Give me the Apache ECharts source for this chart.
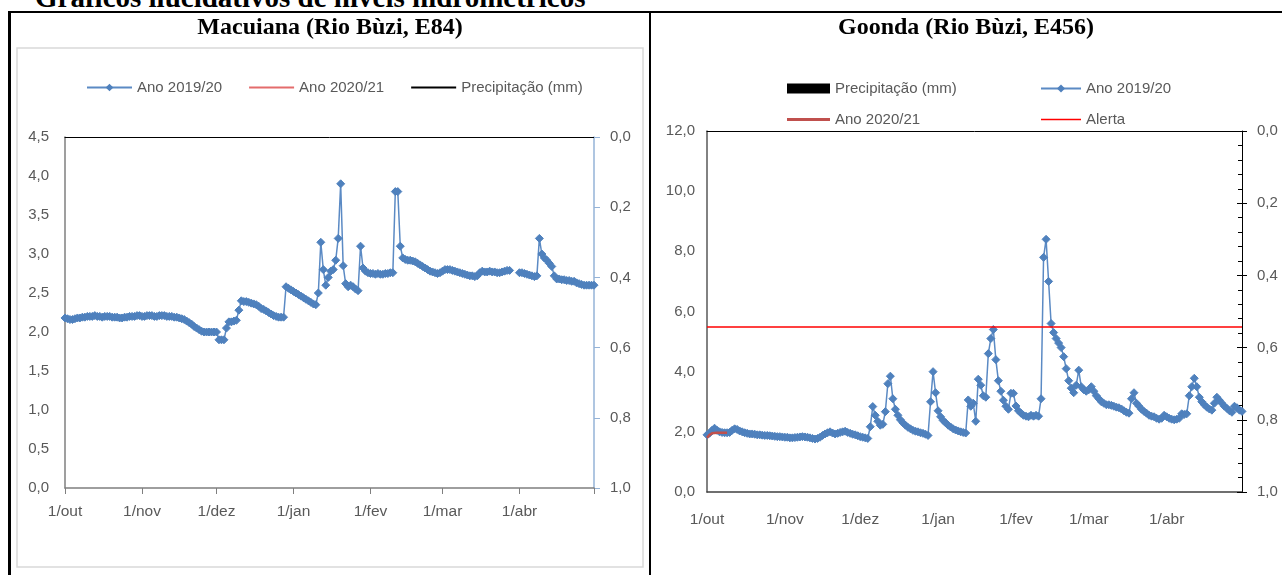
<!DOCTYPE html>
<html><head><meta charset="utf-8">
<script src="https://cdn.jsdelivr.net/npm/echarts@6.0.0/dist/echarts.min.js"></script>
<style>
html,body{margin:0;padding:0;background:#fff;width:1282px;height:575px;overflow:hidden;position:relative;}
#c1{position:absolute;left:0;top:0;width:650px;height:575px;}
#c2{position:absolute;left:650px;top:0;width:632px;height:575px;}
.bl{position:absolute;background:#000;}
#mt{position:absolute;left:35px;top:-19px;font:bold 29px 'Liberation Serif','Times New Roman',serif;white-space:nowrap;color:#000;}
</style></head><body>
<div id="mt">Gráficos ilucidativos de níveis hidrométricos</div>
<div id="c1"></div><div id="c2"></div>
<div class="bl" style="left:8px;top:11px;width:1274px;height:2px"></div>
<div class="bl" style="left:8px;top:11px;width:3px;height:564px"></div>
<div class="bl" style="left:649px;top:11px;width:2px;height:564px"></div>
<script>
// ---------- DATA ----------
const monthAbbr = ['jan','fev','mar','abr','mai','jun','jul','ago','set','out','nov','dez'];
const startDate = '2019-10-01';
const endDate = '2020-05-01';
const leftTicks = [0, 0.5, 1.0, 1.5, 2.0, 2.5, 3.0, 3.5, 4.0, 4.5];
const goondaTicks = [0, 2, 4, 6, 8, 10, 12];
const precipTicks = [0, 0.2, 0.4, 0.6, 0.8, 1.0];
const alertLevel = 5.5;

// Macuiana (E84) daily levels 2019/20, 1 Oct -> 1 May
const macuiana1920 = [
2.18,2.17,2.16,2.16,2.17,2.18,2.18,2.19,2.19,2.20,
2.20,2.20,2.21,2.20,2.20,2.19,2.20,2.20,2.20,2.19,
2.19,2.19,2.18,2.18,2.19,2.19,2.20,2.20,2.20,2.21,
2.21,2.20,2.20,2.21,2.21,2.21,2.20,2.20,2.21,2.21,
2.21,2.20,2.20,2.20,2.19,2.19,2.18,2.17,2.16,2.14,
2.12,2.10,2.07,2.05,2.03,2.01,2.00,2.00,2.00,2.00,
2.00,2.00,1.90,1.90,1.90,2.05,2.13,2.13,2.14,2.15,
2.28,2.40,2.39,2.39,2.38,2.37,2.36,2.35,2.33,2.30,
2.29,2.27,2.25,2.23,2.21,2.20,2.19,2.19,2.19,2.58,
2.56,2.54,2.52,2.50,2.48,2.46,2.44,2.42,2.40,2.38,
2.36,2.35,2.50,3.15,2.80,2.60,2.70,2.78,2.80,2.92,
3.20,3.90,2.85,2.62,2.58,2.60,2.58,2.55,2.53,3.10,
2.82,2.78,2.76,2.75,2.75,2.74,2.75,2.74,2.74,2.75,
2.75,2.76,2.76,3.80,3.80,3.10,2.95,2.93,2.92,2.92,
2.91,2.90,2.88,2.86,2.84,2.82,2.80,2.78,2.77,2.76,
2.75,2.76,2.78,2.80,2.80,2.80,2.79,2.78,2.77,2.76,
2.75,2.74,2.73,2.72,2.72,2.71,2.72,2.76,2.78,2.77,
2.77,2.78,2.77,2.77,2.76,2.76,2.77,2.78,2.79,2.79,
null,null,null,2.76,2.76,2.75,2.74,2.73,2.72,2.71,
2.72,3.20,3.00,2.95,2.92,2.88,2.84,2.72,2.68,2.68,
2.67,2.67,2.66,2.66,2.65,2.65,2.63,2.62,2.61,2.60,
2.60,2.60,2.60,2.60
];
const macuiana2021 = [2.15,2.15,2.15,2.15,2.15,2.16,2.16];
const macuianaPrecip = [];

// Goonda (E456) daily levels 2019/20, 1 Oct -> 1 May
const goonda1920 = [
1.90,1.95,2.05,2.12,2.05,2.00,1.98,1.97,1.97,1.98,
2.05,2.10,2.08,2.03,2.00,1.97,1.95,1.93,1.93,1.92,
1.90,1.90,1.89,1.88,1.88,1.87,1.86,1.85,1.84,1.84,
1.83,1.82,1.82,1.80,1.80,1.81,1.82,1.83,1.84,1.83,
1.82,1.80,1.78,1.76,1.78,1.82,1.88,1.93,1.97,2.00,
1.96,1.93,1.95,1.98,2.00,2.02,1.98,1.95,1.92,1.90,
1.87,1.84,1.82,1.80,1.78,2.17,2.84,2.55,2.35,2.22,
2.25,2.67,3.60,3.85,3.10,2.75,2.55,2.40,2.30,2.22,
2.15,2.10,2.05,2.02,2.00,1.97,1.95,1.92,1.88,3.00,
4.00,3.30,2.70,2.50,2.38,2.30,2.22,2.16,2.10,2.06,
2.03,2.00,1.98,1.96,3.06,2.85,2.95,2.35,3.75,3.55,
3.20,3.15,4.60,5.10,5.40,4.40,3.70,3.35,3.05,2.85,
2.75,3.28,3.28,2.86,2.70,2.62,2.55,2.52,2.50,2.55,
2.52,2.55,2.52,3.10,7.80,8.40,7.00,5.60,5.30,5.10,
4.95,4.80,4.50,4.10,3.70,3.45,3.30,3.55,4.05,3.50,
3.40,3.35,3.40,3.50,3.35,3.20,3.10,3.00,2.95,2.90,
2.90,2.88,2.85,2.82,2.80,2.76,2.70,2.65,2.62,3.10,
3.30,2.95,2.85,2.75,2.68,2.62,2.55,2.52,2.50,2.45,
2.42,2.45,2.55,2.50,2.45,2.42,2.40,2.42,2.45,2.60,
2.58,2.60,3.20,3.50,3.78,3.50,3.15,3.00,2.90,2.82,
2.76,2.72,2.95,3.15,3.05,2.95,2.85,2.78,2.70,2.65,
2.85,2.80,2.72,2.68
];
const goonda2021 = [1.80,1.90,1.95,1.96,1.97,1.97,1.97,1.97,1.97];
const goondaPrecip = [];

// ---------- CATEGORIES ----------
const dates = [];
(function(){
  let t = Date.parse(startDate + 'T00:00:00Z');
  const e = Date.parse(endDate + 'T00:00:00Z');
  while (t <= e) { dates.push(new Date(t).toISOString().slice(0,10)); t += 86400000; }
})();
const isMonthStart = v => v.slice(8) === '01';
const tickInt = (i, v) => isMonthStart(v);
const labInt = (i, v) => isMonthStart(v) && i < dates.length - 1;
const fmtX = v => '1/' + monthAbbr[parseInt(v.slice(5,7),10) - 1];
const fmtY = v => v.toFixed(1).replace('.', ',');

const fontFam = "'Liberation Sans', Arial, sans-serif";
const txt = '#595959';
const lab = (m) => ({formatter: fmtY, margin: m, fontSize: 15, color: txt, fontFamily: fontFam});
const blue = '#4f81bd';
const lineIcon = 'path://M0,0h40v1.6h-40z';
const lineIconThick = 'path://M0,0h40v2.6h-40z';
const markerStyle = {color: blue, borderColor: blue, borderWidth: 1};

// ---------- CHART 1 ----------
const c1 = echarts.init(document.getElementById('c1'), null, {renderer:'canvas'});
c1.setOption({
  animation: false,
  graphic: [
    {type:'rect', silent:true, shape:{x:17,y:48,width:626,height:519}, style:{fill:'none', stroke:'#d9d9d9', lineWidth:1.5}},
    {type:'text', silent:true, x:330, y:28, style:{text:'Macuiana (Rio Bùzi, E84)', font:'bold 24px "Liberation Serif", serif', fill:'#000', align:'center', verticalAlign:'middle'}}
  ],
  legend: {left:81, top:75, itemWidth:45, itemHeight:6, itemGap:27,
    data:['Ano 2019/20', {name:'Ano 2020/21', icon:lineIcon}, {name:'Precipitação (mm)', icon:lineIcon}],
    textStyle:{fontSize:15, color:txt, fontFamily:fontFam}},
  grid: {left:65, top:137, width:529, height:351, containLabel:false, outerBoundsMode:'none'},
  xAxis: [
    {type:'category', data:dates, boundaryGap:false,
     axisLine:{lineStyle:{color:'#7f7f7f', width:1.5}},
     axisTick:{show:true, interval:tickInt, length:6, lineStyle:{color:'#7f7f7f'}},
     axisLabel:{interval:labInt, formatter:fmtX, margin:16, fontSize:15.5, color:txt, fontFamily:fontFam},
     splitLine:{show:false}},
    {type:'category', data:dates, boundaryGap:false, position:'top',
     axisLine:{lineStyle:{color:'#000', width:1}}, axisTick:{show:false}, axisLabel:{show:false}, splitLine:{show:false}}
  ],
  yAxis: [
    {type:'value', min:leftTicks[0], max:leftTicks[leftTicks.length-1], interval:leftTicks[1]-leftTicks[0],
     axisLine:{show:true, lineStyle:{color:'#7f7f7f', width:1.5}}, axisTick:{show:false}, splitLine:{show:false}, axisLabel:lab(16)},
    {type:'value', min:precipTicks[0], max:precipTicks[precipTicks.length-1], interval:0.2, inverse:true, position:'right',
     axisLine:{show:true, lineStyle:{color:'#95b3d7', width:1.5}}, axisTick:{show:true, length:6, lineStyle:{color:'#95b3d7'}},
     splitLine:{show:false}, axisLabel:lab(16)}
  ],
  series: [
    {name:'Ano 2020/21', type:'line', data:macuiana2021, symbol:'none', z:2,
     lineStyle:{color:'#e46c6c', width:1.5}, itemStyle:{color:'#e46c6c'}},
    {name:'Ano 2019/20', type:'line', data:macuiana1920, symbol:'diamond', symbolSize:8, showAllSymbol:true, z:3,
     itemStyle:markerStyle, lineStyle:{color:'#5b8ac4', width:1.5}},
    {name:'Precipitação (mm)', type:'line', yAxisIndex:1, data:macuianaPrecip, symbol:'none',
     lineStyle:{color:'#000', width:1.5}, itemStyle:{color:'#000'}}
  ]
});

// ---------- CHART 2 ----------
const c2 = echarts.init(document.getElementById('c2'), null, {renderer:'canvas'});
const leg2 = {fontSize:15, color:txt, fontFamily:fontFam};
c2.setOption({
  animation: false,
  graphic: [
    {type:'text', silent:true, x:316, y:28, style:{text:'Goonda (Rio Bùzi, E456)', font:'bold 24px "Liberation Serif", serif', fill:'#000', align:'center', verticalAlign:'middle'}}
  ],
  legend: [
    {left:132, top:76, orient:'vertical', itemWidth:43, itemHeight:10, itemGap:16,
     data:[{name:'Precipitação (mm)', icon:'rect'}, {name:'Ano 2020/21', icon:lineIconThick}],
     textStyle:leg2},
    {left:385, top:76, orient:'vertical', itemWidth:40, itemHeight:10, itemGap:16,
     data:[{name:'Ano 2019/20', itemStyle:{borderWidth:0}}, {name:'Alerta', icon:lineIcon}],
     textStyle:leg2}
  ],
  grid: {left:57, top:131, width:535, height:361, containLabel:false, outerBoundsMode:'none'},
  xAxis: [
    {type:'category', data:dates, boundaryGap:false,
     axisLine:{lineStyle:{color:'#404040', width:1.5}}, axisTick:{show:false},
     axisLabel:{interval:labInt, formatter:fmtX, margin:20, fontSize:15.5, color:txt, fontFamily:fontFam},
     splitLine:{show:false}},
    {type:'category', data:dates, boundaryGap:false, position:'top',
     axisLine:{lineStyle:{color:'#000', width:1}}, axisTick:{show:false}, axisLabel:{show:false}, splitLine:{show:false}}
  ],
  yAxis: [
    {type:'value', min:goondaTicks[0], max:goondaTicks[goondaTicks.length-1], interval:goondaTicks[1]-goondaTicks[0],
     axisLine:{show:true, lineStyle:{color:'#595959', width:1.5}}, axisTick:{show:false}, splitLine:{show:false}, axisLabel:lab(12)},
    {type:'value', min:precipTicks[0], max:precipTicks[precipTicks.length-1], interval:0.2, inverse:true, position:'right',
     axisLine:{show:true, lineStyle:{color:'#000', width:1}}, axisTick:{show:true, length:5, lineStyle:{color:'#000'}},
     splitLine:{show:false}, axisLabel:lab(15)},
    {type:'value', min:0, max:1, interval:0.2, inverse:true, position:'right',
     axisLine:{show:false}, axisTick:{show:true, inside:true, length:5, lineStyle:{color:'#000'}},
     minorTick:{show:true, splitNumber:5, length:4, lineStyle:{color:'#000'}},
     splitLine:{show:false}, axisLabel:{show:false}}
  ],
  series: [
    {name:'Precipitação (mm)', type:'bar', yAxisIndex:1, data:goondaPrecip, itemStyle:{color:'#000'}},
    {name:'Ano 2019/20', type:'line', data:goonda1920, symbol:'diamond', symbolSize:8, showAllSymbol:true, z:3,
     itemStyle:markerStyle, lineStyle:{color:'#5b8ac4', width:1.5}},
    {name:'Ano 2020/21', type:'line', data:goonda2021, symbol:'none', z:4,
     lineStyle:{color:'#c0504d', width:2.5}, itemStyle:{color:'#c0504d'}},
    {name:'Alerta', type:'line', data:[], symbol:'none',
     lineStyle:{color:'#ff0000', width:1.5}, itemStyle:{color:'#ff0000'},
     markLine:{silent:true, symbol:['none','none'], label:{show:false},
       lineStyle:{color:'#ff0000', width:1.5, type:'solid'}, data:[{yAxis:alertLevel}]}}
  ]
});
</script>
</body></html>
